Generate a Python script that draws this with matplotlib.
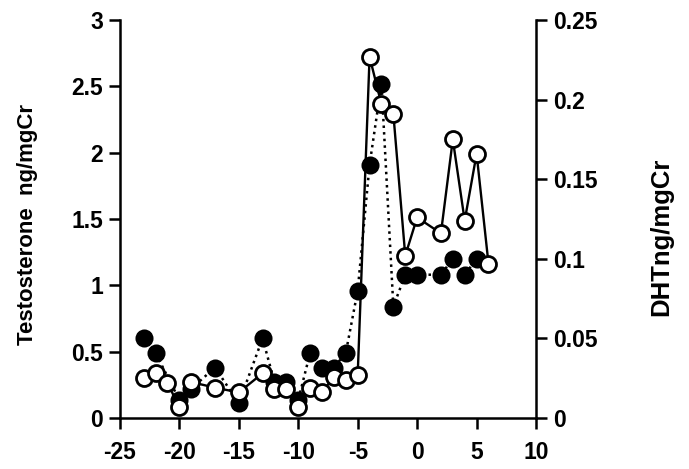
import numpy as np
from matplotlib import pyplot as plt

plt.rcParams['font.family'] = ['Liberation Sans', 'DejaVu Sans']
plt.rcParams['font.weight'] = 'bold'

# testosterone (filled, dotted line, left axis)
t_days = [-23, -22, -20, -19, -17, -15, -13, -12, -11, -10, -9, -8, -7, -6,
          -5, -4, -3, -2, -1, 0, 2, 3, 4, 5]
testo = [0.60, 0.49, 0.135, 0.22, 0.38, 0.11, 0.60, 0.27, 0.27, 0.135, 0.49, 0.38, 0.38, 0.49,
         0.96, 1.91, 2.52, 0.84, 1.08, 1.08, 1.08, 1.20, 1.08, 1.20]

# DHT (open, solid line, right axis)
d_days = [-23, -22, -21, -20, -19, -17, -15, -13, -12, -11, -10, -9, -8, -7, -6, -5,
          -4, -3, -2, -1, 0, 2, 3, 4, 5, 6]
dht = [0.025, 0.028, 0.022, 0.0067, 0.0225, 0.019, 0.016, 0.028, 0.018, 0.018, 0.0067, 0.019,
       0.016, 0.026, 0.024, 0.027,
       0.227, 0.197, 0.191, 0.102, 0.126, 0.116, 0.175, 0.124, 0.166, 0.097]

xticks = [-25, -20, -15, -10, -5, 0, 5, 10]
yticks_l = [0, 0.5, 1, 1.5, 2, 2.5, 3]
yticks_r = [0, 0.05, 0.1, 0.15, 0.2, 0.25]

fig = plt.figure(figsize=(6.89, 4.69), dpi=100)
ax = fig.add_axes([0.174, 0.109, 0.604, 0.848])
ax2 = ax.twinx()

ax.plot(t_days, testo, color='black', linestyle=':', linewidth=1.8,
        marker='o', markersize=11.5, markerfacecolor='black', markeredgecolor='black', markeredgewidth=1.5)
ax2.plot(d_days, dht, color='black', linestyle='-', linewidth=1.7,
         marker='o', markersize=11.5, markerfacecolor='white', markeredgecolor='black', markeredgewidth=2)

ax.set_xlim(-25, 10)
ax.set_ylim(0, 3)
ax2.set_ylim(0, 0.25)
ax.set_xticks(xticks)
ax.set_xticklabels([str(v) for v in xticks])
ax.set_yticks(yticks_l)
ax.set_yticklabels(['0', '0.5', '1', '1.5', '2', '2.5', '3'])
ax2.set_yticks(yticks_r)
ax2.set_yticklabels(['0', '0.05', '0.1', '0.15', '0.2', '0.25'])

for a in (ax, ax2):
    a.spines['top'].set_visible(False)
    for s in ('left', 'right', 'bottom'):
        a.spines[s].set_linewidth(1.8)
    a.tick_params(width=1.8, length=8, labelsize=16.5, direction='out', pad=4)
ax.tick_params(axis='x', pad=9)
ax.spines['right'].set_visible(False)
ax2.spines['left'].set_visible(False)
ax2.spines['bottom'].set_visible(False)

ax.set_ylabel('Testosterone  ng/mgCr', fontsize=16, fontweight='bold', va='center')
ax.yaxis.set_label_coords(-0.221, 0.485)
ax2.set_ylabel('DHTng/mgCr', fontsize=18.5, fontweight='bold', va='center')
ax2.yaxis.set_label_coords(1.30, 0.455)

fig.savefig('out.png', dpi=100)
